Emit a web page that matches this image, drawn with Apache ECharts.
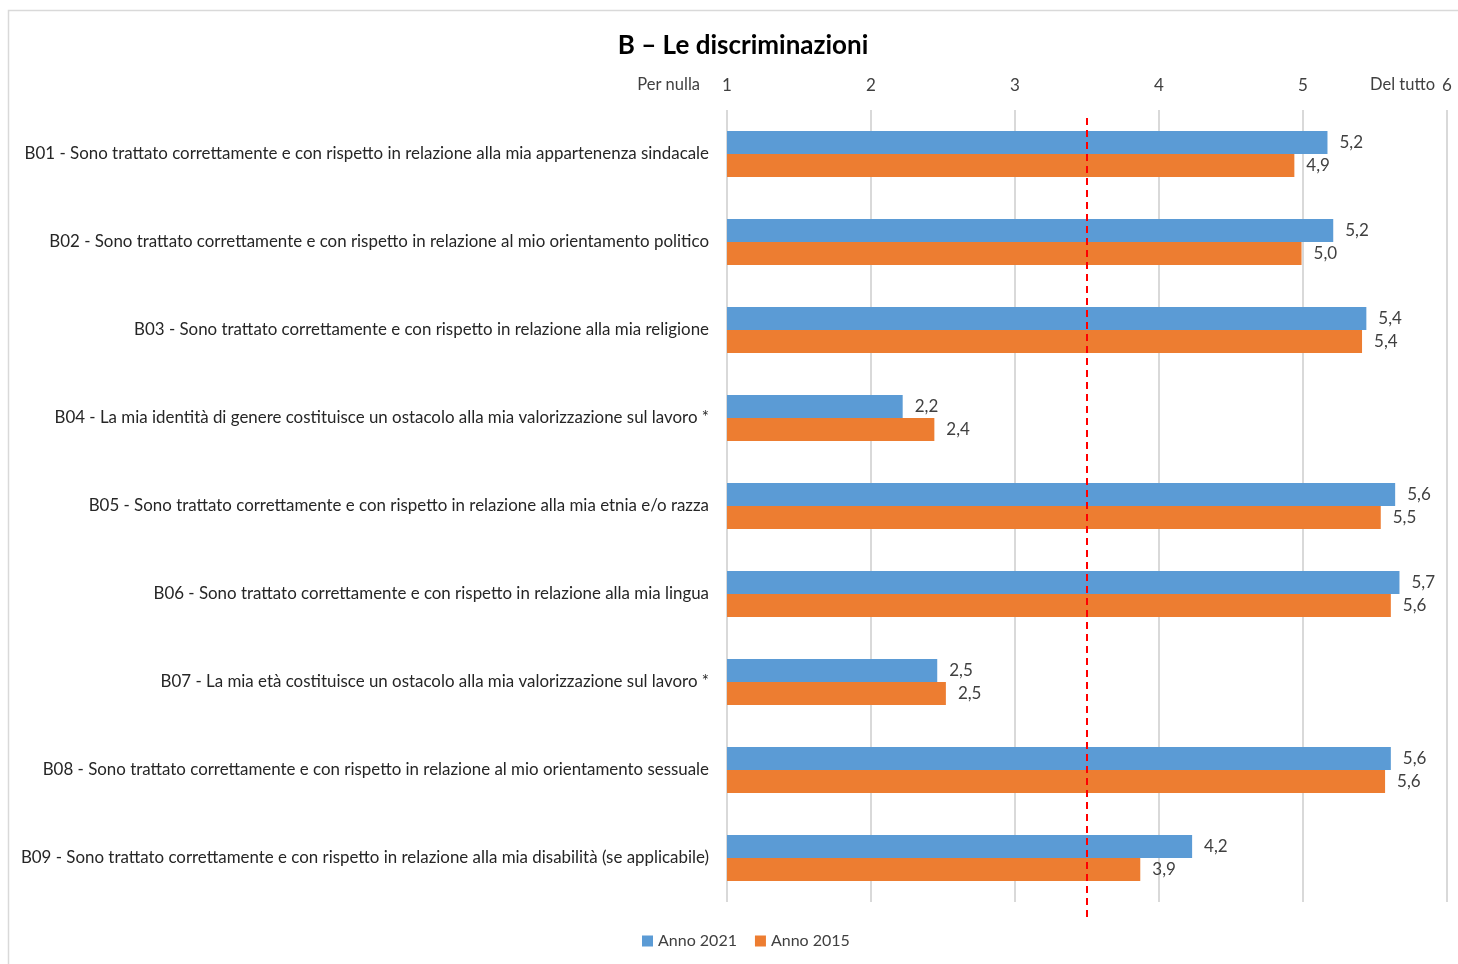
<!DOCTYPE html>
<html>
<head>
<meta charset="utf-8">
<script src="https://cdn.jsdelivr.net/npm/echarts@6/dist/echarts.min.js"></script>
<style>html,body{margin:0;padding:0;background:#fff}#c{width:1458px;height:964px}</style>
</head>
<body>
<div id="c"></div>
<script>
const categories = [
  "B01 - Sono trattato correttamente e con rispetto in relazione alla mia appartenenza sindacale",
  "B02 - Sono trattato correttamente e con rispetto in relazione al mio orientamento politico",
  "B03 - Sono trattato correttamente e con rispetto in relazione alla mia religione",
  "B04 - La mia identità di genere costituisce un ostacolo alla mia valorizzazione sul lavoro *",
  "B05 - Sono trattato correttamente e con rispetto in relazione alla mia etnia e/o razza",
  "B06 - Sono trattato correttamente e con rispetto in relazione alla mia lingua",
  "B07 - La mia età costituisce un ostacolo alla mia valorizzazione sul lavoro *",
  "B08 - Sono trattato correttamente e con rispetto in relazione al mio orientamento sessuale",
  "B09 - Sono trattato correttamente e con rispetto in relazione alla mia disabilità (se applicabile)"
];
const anno2021 = [5.17, 5.21, 5.44, 2.22, 5.64, 5.67, 2.46, 5.61, 4.23];
const anno2015 = [4.94, 4.99, 5.41, 2.44, 5.54, 5.61, 2.52, 5.57, 3.87];
const seriesNames = ["Anno 2021", "Anno 2015"];
const tickValues = [1, 2, 3, 4, 5, 6];
const threshold = 3.5;
const scaleMinLabel = "Per nulla";
const scaleMaxLabel = "Del tutto";
const title = "B – Le discriminazioni";

const FONT = "Lato";
const fmt = v => v.toFixed(1).replace('.', ',');

const chart = echarts.init(document.getElementById('c'));
const labelStyle = {
  show: true, position: 'right', distance: 12,
  fontFamily: FONT, fontSize: 17, color: '#404040',
  formatter: p => fmt(p.value)
};
chart.setOption({
  animation: false,
  backgroundColor: '#fff',
  title: {
    text: title, left: 738, top: 28, textAlign: 'center',
    textStyle: { fontFamily: FONT, fontSize: 26, fontWeight: 'bold', color: '#000' }
  },
  legend: {
    bottom: 10, left: 637, itemWidth: 11, itemHeight: 11, itemGap: 18,
    icon: 'rect',
    textStyle: { fontFamily: FONT, fontSize: 16, color: '#404040' },
    data: seriesNames
  },
  graphic: [
    { type: 'rect', shape: { x: 8.5, y: 10.5, width: 1460, height: 960 },
      style: { fill: 'none', stroke: '#d9d9d9', lineWidth: 1.5 }, silent: true, z: -1 },
    { type: 'text', x: 700, y: 85, style: { text: scaleMinLabel, align: 'right', verticalAlign: 'middle',
      font: '16.5px ' + FONT, fill: '#404040' } },
    { type: 'text', x: 1435, y: 85, style: { text: scaleMaxLabel, align: 'right', verticalAlign: 'middle',
      font: '16.5px ' + FONT, fill: '#404040' } }
  ],
  grid: [
    { left: 727, width: 720, top: 110, height: 792, containLabel: false },
    { left: 727, width: 720, top: 114, height: 803, containLabel: false }
  ],
  xAxis: [
    { type: 'value', gridIndex: 0, position: 'top', min: 1, max: 6, interval: 1,
      axisLine: { show: false }, axisTick: { show: false },
      axisLabel: { margin: 16, fontFamily: FONT, fontSize: 17, color: '#404040',
        formatter: v => tickValues.includes(v) ? String(v) : '' },
      splitLine: { show: true, lineStyle: { color: '#d9d9d9', width: 2 } } },
    { type: 'value', gridIndex: 1, min: 1, max: 6, show: false }
  ],
  yAxis: [
    { type: 'category', gridIndex: 0, data: categories, inverse: true,
      axisLine: { show: false }, axisTick: { show: false },
      axisLabel: { margin: 18, fontFamily: FONT, fontSize: 16.9, color: '#262626' } },
    { type: 'value', gridIndex: 1, min: 0, max: 1, show: false }
  ],
  series: [
    { name: seriesNames[0], type: 'bar', xAxisIndex: 0, yAxisIndex: 0, data: anno2021,
      barWidth: 23, barGap: '0%', itemStyle: { color: '#5B9BD5' }, label: labelStyle },
    { name: seriesNames[1], type: 'bar', xAxisIndex: 0, yAxisIndex: 0, data: anno2015,
      barWidth: 23, barGap: '0%', itemStyle: { color: '#ED7D31' }, label: labelStyle },
    { name: 'soglia', type: 'line', xAxisIndex: 1, yAxisIndex: 1,
      data: [[threshold, 0], [threshold, 1]], symbol: 'none', z: 5,
      lineStyle: { color: '#FF0000', type: [7, 5], width: 2 }, silent: true }
  ]
});
</script>
</body>
</html>
